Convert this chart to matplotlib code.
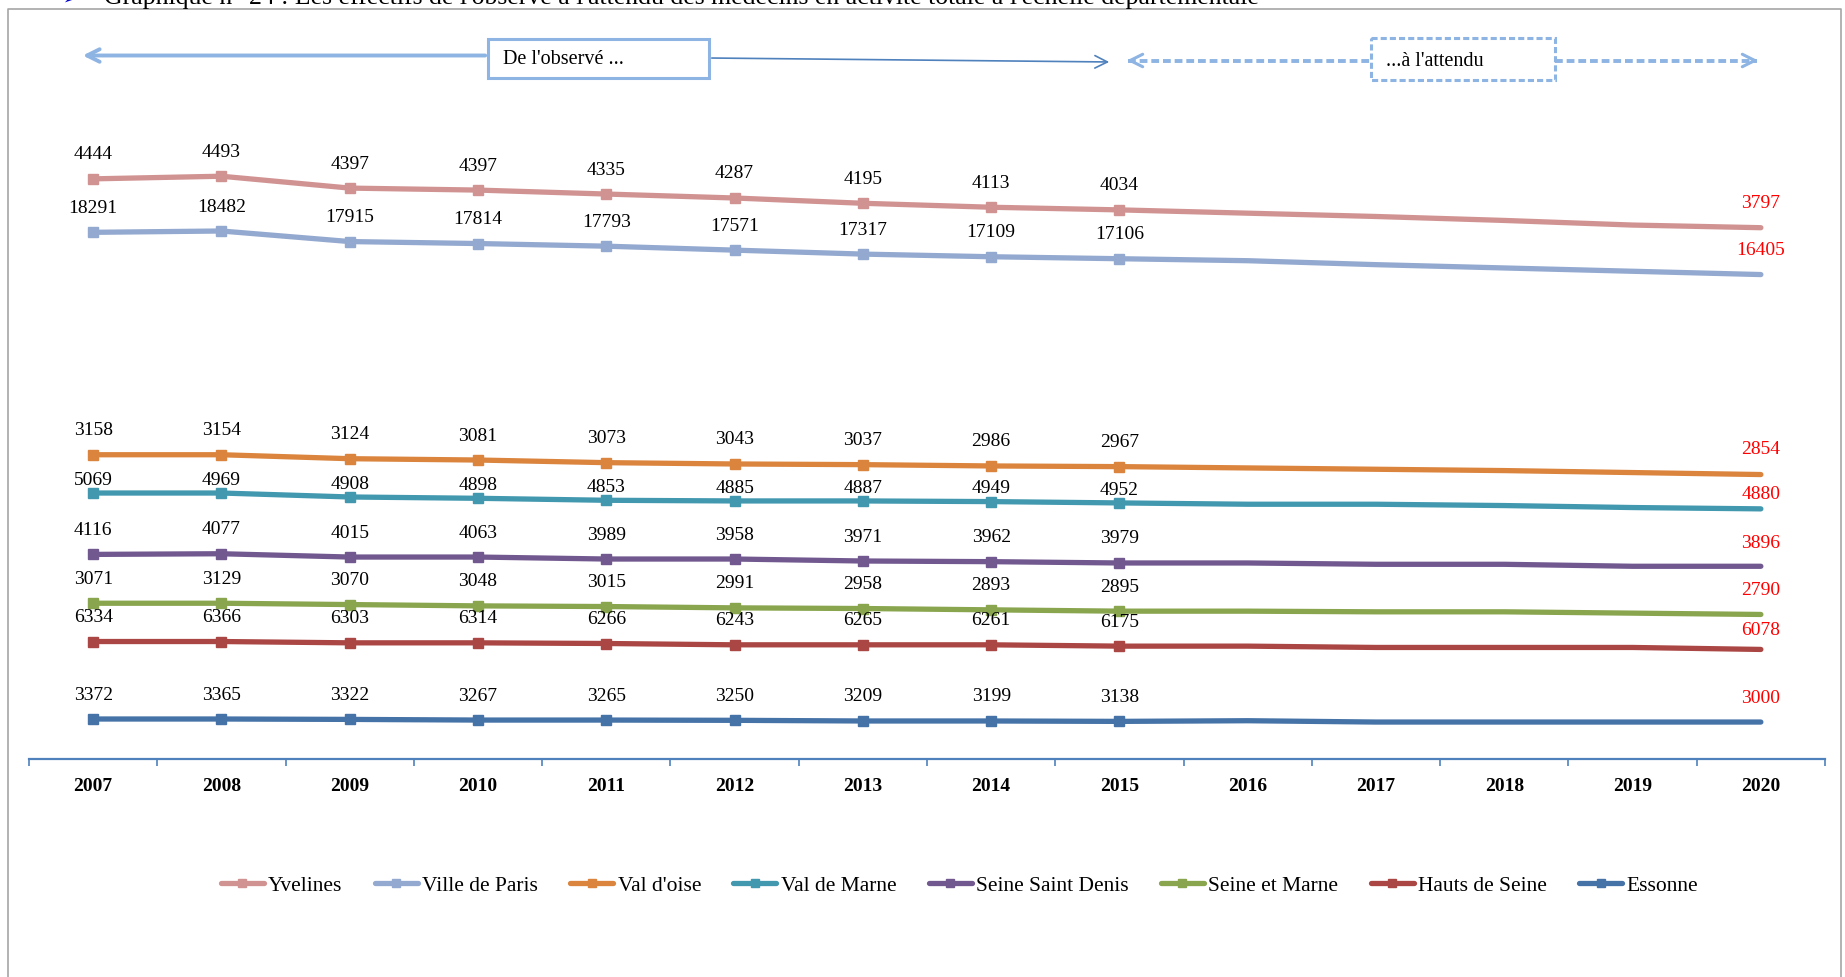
import matplotlib.pyplot as plt

plt.rcParams['font.family'] = ['Liberation Serif', 'DejaVu Serif']

annees = ['2007', '2008', '2009', '2010', '2011', '2012', '2013', '2014',
          '2015', '2016', '2017', '2018', '2019', '2020']
departements = ['Yvelines', 'Ville de Paris', "Val d'oise", 'Val de Marne',
                'Seine Saint Denis', 'Seine et Marne', 'Hauts de Seine', 'Essonne']

# tracé des courbes (position relue sur le graphique, échelle 0-100)
niv_yvelines = [87.9, 88.3, 86.5, 86.2, 85.6, 85.0, 84.2, 83.6, 83.2, 82.7, 82.2, 81.6, 80.9, 80.5]
niv_paris = [79.8, 80.0, 78.4, 78.1, 77.7, 77.1, 76.5, 76.1, 75.8, 75.5, 74.9, 74.4, 73.9, 73.4]
niv_valdoise = [46.1, 46.1, 45.5, 45.3, 44.9, 44.7, 44.6, 44.4, 44.3, 44.1, 43.9, 43.7, 43.4, 43.1]
niv_valdemarne = [40.3, 40.3, 39.7, 39.5, 39.2, 39.1, 39.1, 39.0, 38.8, 38.6, 38.6, 38.4, 38.1, 37.9]
niv_ssd = [31.0, 31.1, 30.6, 30.6, 30.3, 30.3, 30.0, 29.9, 29.7, 29.7, 29.5, 29.5, 29.2, 29.2]
niv_sem = [23.6, 23.6, 23.4, 23.2, 23.1, 22.9, 22.8, 22.6, 22.4, 22.4, 22.3, 22.3, 22.1, 21.9]
niv_hds = [17.8, 17.8, 17.6, 17.6, 17.5, 17.3, 17.3, 17.3, 17.1, 17.1, 16.9, 16.9, 16.9, 16.6]
niv_essonne = [6.06, 6.06, 6.0, 5.9, 5.9, 5.86, 5.76, 5.76, 5.7, 5.8, 5.6, 5.6, 5.6, 5.6]

# effectifs observés 2007-2015
eff_yvelines = [4444, 4493, 4397, 4397, 4335, 4287, 4195, 4113, 4034]
eff_paris = [18291, 18482, 17915, 17814, 17793, 17571, 17317, 17109, 17106]
eff_valdoise = [3158, 3154, 3124, 3081, 3073, 3043, 3037, 2986, 2967]
eff_valdemarne = [5069, 4969, 4908, 4898, 4853, 4885, 4887, 4949, 4952]
eff_ssd = [4116, 4077, 4015, 4063, 3989, 3958, 3971, 3962, 3979]
eff_sem = [3071, 3129, 3070, 3048, 3015, 2991, 2958, 2893, 2895]
eff_hds = [6334, 6366, 6303, 6314, 6266, 6243, 6265, 6261, 6175]
eff_essonne = [3372, 3365, 3322, 3267, 3265, 3250, 3209, 3199, 3138]

# effectifs attendus 2020
attendu_2020 = [3797, 16405, 2854, 4880, 3896, 2790, 6078, 3000]

niveaux = [niv_yvelines, niv_paris, niv_valdoise, niv_valdemarne, niv_ssd, niv_sem, niv_hds, niv_essonne]
effectifs = [eff_yvelines, eff_paris, eff_valdoise, eff_valdemarne, eff_ssd, eff_sem, eff_hds, eff_essonne]
couleurs = ['#D19392', '#93A9CF', '#DB843D', '#4198AF', '#71588F', '#89A54E', '#AA4643', '#4572A7']
decal = [18, 18, 18, 10, 18, 18, 18, 18]
decal_2020 = [18, 18, 19, 11, 17, 18, 14, 18]

W, H = 1845, 978
fig = plt.figure(figsize=(W / 100, H / 100), dpi=100)
ax = fig.add_axes([29 / W, 1 - 760 / H, (1825 - 29) / W, (760 - 100) / H])

x = list(range(len(annees)))
for i in range(len(departements)):
    ax.plot(x, niveaux[i], color=couleurs[i], lw=3.8, marker='s', ms=6.5,
            markevery=list(range(9)), solid_capstyle='round', solid_joinstyle='round',
            label=departements[i], zorder=3)
    for j, v in enumerate(effectifs[i]):
        ax.annotate(str(v), (x[j], niveaux[i][j]), xytext=(0, decal[i]),
                    textcoords='offset points', ha='center', va='center', fontsize=14)
    ax.annotate(str(attendu_2020[i]), (x[-1], niveaux[i][-1]), xytext=(0, decal_2020[i]),
                textcoords='offset points', ha='center', va='center', fontsize=14, color='#FF0000')

ax.set_xlim(-0.5, 13.5)
ax.set_ylim(0, 100)
ax.set_yticks([])
ax.set_xticks(x)
ax.set_xticklabels(annees, fontsize=14, fontweight='bold')
ax.set_xticks([k - 0.5 for k in range(15)], minor=True)
ax.tick_params(axis='x', which='major', length=0, pad=13)
ax.tick_params(axis='x', which='minor', length=5, width=1.2, color='#4F81BD', direction='out')
for s in ['top', 'left', 'right']:
    ax.spines[s].set_visible(False)
ax.spines['bottom'].set_color('#4F81BD')
ax.spines['bottom'].set_linewidth(1.6)

fig.legend(loc='center', bbox_to_anchor=(0.52, 1 - 886 / H), ncol=8, frameon=False,
           fontsize=15.5, handlelength=2.0, handletextpad=0.2, columnspacing=1.5,
           markerscale=0.85)

# calque en pixels pour le cadre et les flèches du haut
ov = fig.add_axes([0, 0, 1, 1], zorder=5)
ov.set_xlim(0, W)
ov.set_ylim(H, 0)
ov.axis('off')
ov.patch.set_alpha(0)

ov.plot([8, 8, 1841, 1841], [H, 10, 10, H], color='#A6A6A6', lw=1.2)

# titre coupé en haut comme sur l'original
ov.text(104, 4, "Graphique n\u00b0 24 : Les effectifs de l'observé à l'attendu des médecins en activité totale à l'échelle départementale",
        fontsize=18.5, va='baseline', ha='left')
ov.text(62, 4, '\u27a2', fontsize=12, color='#0000CC', va='baseline', family=['DejaVu Sans'])

bleu_clair = '#8DB4E2'
# De l'observé ...
ov.annotate('', xy=(80, 56.5), xytext=(488, 56.5),
            arrowprops=dict(arrowstyle='->,head_length=0.9,head_width=0.45', color=bleu_clair, lw=2.8))
ov.add_patch(plt.Rectangle((488, 39.5), 221, 39.5, fill=True, fc='white', ec=bleu_clair, lw=2.2))
ov.text(503, 60, "De l'observé ...", fontsize=14.5, va='center', ha='left')
ov.annotate('', xy=(1112, 63), xytext=(709, 59),
            arrowprops=dict(arrowstyle='->,head_length=0.9,head_width=0.45', color='#4F81BD', lw=1.2))

# ... à l'attendu
ov.plot([1128, 1371], [61.5, 61.5], color=bleu_clair, lw=2.8, ls=(0, (2, 1)))
ov.annotate('', xy=(1124, 61.5), xytext=(1134, 61.5),
            arrowprops=dict(arrowstyle='->,head_length=0.9,head_width=0.45', color=bleu_clair, lw=2.2))
ov.add_patch(plt.Rectangle((1371, 38.5), 184, 42, fill=True, fc='white', ec=bleu_clair, lw=2.2, ls=(0, (2, 1))))
ov.text(1386, 61.5, "...à l'attendu", fontsize=14.5, va='center', ha='left')
ov.plot([1555, 1757], [61.5, 61.5], color=bleu_clair, lw=2.8, ls=(0, (2, 1)))
ov.annotate('', xy=(1761, 61.5), xytext=(1751, 61.5),
            arrowprops=dict(arrowstyle='->,head_length=0.9,head_width=0.45', color=bleu_clair, lw=2.2))

fig.savefig('out.png', dpi=100)
